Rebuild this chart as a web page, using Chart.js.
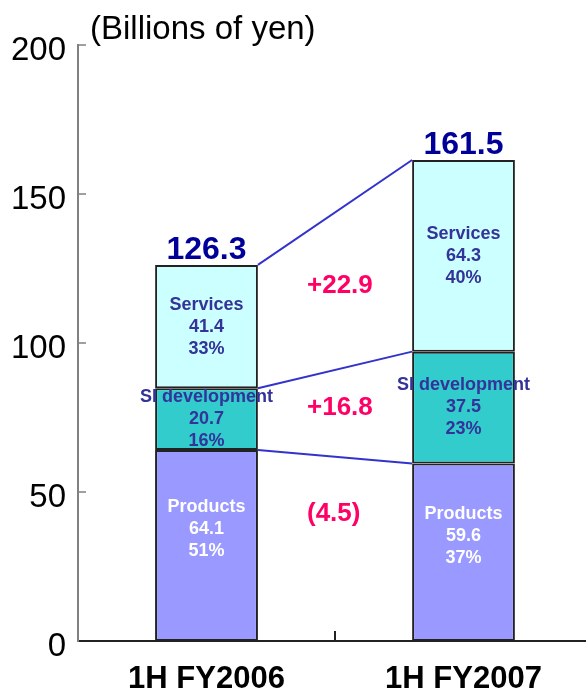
<!DOCTYPE html>
<html>
<head>
<meta charset="utf-8">
<script src="https://cdn.jsdelivr.net/npm/chart.js@4/dist/chart.umd.min.js"></script>
<style>
html, body { margin:0; padding:0; background:#fff; overflow:hidden; }
#wrap { width:600px; height:720px; }
</style>
</head>
<body>
<div id="wrap"><canvas id="sales" width="600" height="720"></canvas></div>
<script>
var periods = ['1H FY2006', '1H FY2007'];
var segNames = ['Products', 'SI development', 'Services'];
var products = [64.1, 59.6];
var siDev = [20.7, 37.5];
var services = [41.4, 64.3];
var productsPct = ['51%', '37%'];
var siDevPct = ['16%', '23%'];
var servicesPct = ['33%', '40%'];
var totals = [126.3, 161.5];
var changes = [-4.5, 16.8, 22.9]; // products, SI development, services
var yTicks = [0, 50, 100, 150, 200];
var unitLabel = '(Billions of yen)';

var FONT = '"Liberation Sans", Arial, sans-serif';
var pcts = [productsPct, siDevPct, servicesPct];
var textColors = ['#ffffff', '#333399', '#333399'];
var textShift = [-16, 0, 0];
var changeShift = [-35, -5, -5];

function fmtChange(v) {
    return v < 0 ? '(' + Math.abs(v).toFixed(1) + ')' : '+' + v.toFixed(1);
}

var extras = {
    id: 'extras',
    afterDatasetsDraw: function(chart) {
        var ctx = chart.ctx;
        var ys = chart.scales.y;
        var xs = chart.scales.x;
        var area = chart.chartArea;
        ctx.save();

        // connecting lines between the two bars
        ctx.strokeStyle = '#3333cc';
        ctx.lineWidth = 2;
        for (var i = 0; i < 3; i++) {
            var a = chart.getDatasetMeta(i).data[0];
            var b = chart.getDatasetMeta(i).data[1];
            ctx.beginPath();
            ctx.moveTo(a.x + a.width / 2, a.y);
            ctx.lineTo(b.x - b.width / 2, b.y);
            ctx.stroke();
        }

        // segment labels
        ctx.textAlign = 'center';
        ctx.textBaseline = 'middle';
        ctx.font = 'bold 18px ' + FONT;
        for (var d = 0; d < 3; d++) {
            var meta = chart.getDatasetMeta(d);
            var vals = chart.data.datasets[d].data;
            meta.data.forEach(function(el, j) {
                var cy = (el.y + el.base) / 2 + textShift[d];
                ctx.fillStyle = textColors[d];
                ctx.fillText(segNames[d], el.x, cy - 22);
                ctx.fillText(vals[j].toFixed(1), el.x, cy);
                ctx.fillText(pcts[d][j], el.x, cy + 22);
            });
        }

        // totals
        ctx.font = 'bold 32px ' + FONT;
        ctx.fillStyle = '#000099';
        ctx.textBaseline = 'alphabetic';
        chart.getDatasetMeta(2).data.forEach(function(el, j) {
            ctx.fillText(totals[j].toFixed(1), el.x, el.y - 6);
        });

        // changes between periods
        var mid = xs.getPixelForValue(0.5);
        ctx.font = 'bold 26px ' + FONT;
        ctx.fillStyle = '#ff0066';
        ctx.textAlign = 'left';
        ctx.textBaseline = 'middle';
        for (var k = 0; k < 3; k++) {
            var m = chart.getDatasetMeta(k);
            var y0 = (m.data[0].y + m.data[0].base) / 2;
            var y1 = (m.data[1].y + m.data[1].base) / 2;
            ctx.fillText(fmtChange(changes[k]), mid - 28, (y0 + y1) / 2 + changeShift[k]);
        }

        // y ticks (inward) and labels
        ctx.strokeStyle = '#808080';
        ctx.lineWidth = 1.5;
        ctx.font = '33px ' + FONT;
        ctx.fillStyle = '#000';
        ctx.textAlign = 'right';
        yTicks.forEach(function(v) {
            var py = ys.getPixelForValue(v);
            if (v > 0) {
                ctx.beginPath();
                ctx.moveTo(area.left, py);
                ctx.lineTo(area.left + 8, py);
                ctx.stroke();
            }
            ctx.fillText(String(v), area.left - 12, py + 6);
        });

        // category divider tick
        ctx.strokeStyle = '#222';
        ctx.lineWidth = 2;
        ctx.beginPath();
        ctx.moveTo(mid, area.bottom);
        ctx.lineTo(mid, area.bottom - 10);
        ctx.stroke();

        // unit label
        ctx.font = '33px ' + FONT;
        ctx.textAlign = 'left';
        ctx.textBaseline = 'alphabetic';
        ctx.fillText(unitLabel, 90, 39);

        ctx.restore();
    }
};

var ctx = document.getElementById('sales');
var salesChart = new Chart(ctx, {
    type: 'bar',
    data: {
        labels: periods,
        datasets: [
            {
                label: segNames[0],
                data: products,
                backgroundColor: '#9999ff',
                borderColor: '#222',
                borderWidth: 2,
                borderSkipped: false
            },
            {
                label: segNames[1],
                data: siDev,
                backgroundColor: '#33cccc',
                borderColor: '#222',
                borderWidth: 2,
                borderSkipped: false
            },
            {
                label: segNames[2],
                data: services,
                backgroundColor: '#ccffff',
                borderColor: '#222',
                borderWidth: 2,
                borderSkipped: false
            }
        ]
    },
    options: {
        responsive: false,
        animation: false,
        barPercentage: 0.4,
        categoryPercentage: 1,
        layout: { padding: { left: 78, right: 8, top: 45, bottom: 2 } },
        plugins: {
            legend: { display: false },
            tooltip: { enabled: false }
        },
        scales: {
            x: {
                stacked: true,
                grid: { display: false, drawTicks: false },
                border: { display: true, color: '#222', width: 2 },
                ticks: {
                    color: '#000',
                    padding: 23,
                    font: { family: FONT, size: 31, weight: 'bold', lineHeight: 1 }
                }
            },
            y: {
                stacked: true,
                min: 0,
                max: 200,
                grid: { display: false, drawTicks: false },
                border: { display: true, color: '#808080', width: 2 },
                ticks: { display: false }
            }
        }
    },
    plugins: [extras]
});
</script>
</body>
</html>
